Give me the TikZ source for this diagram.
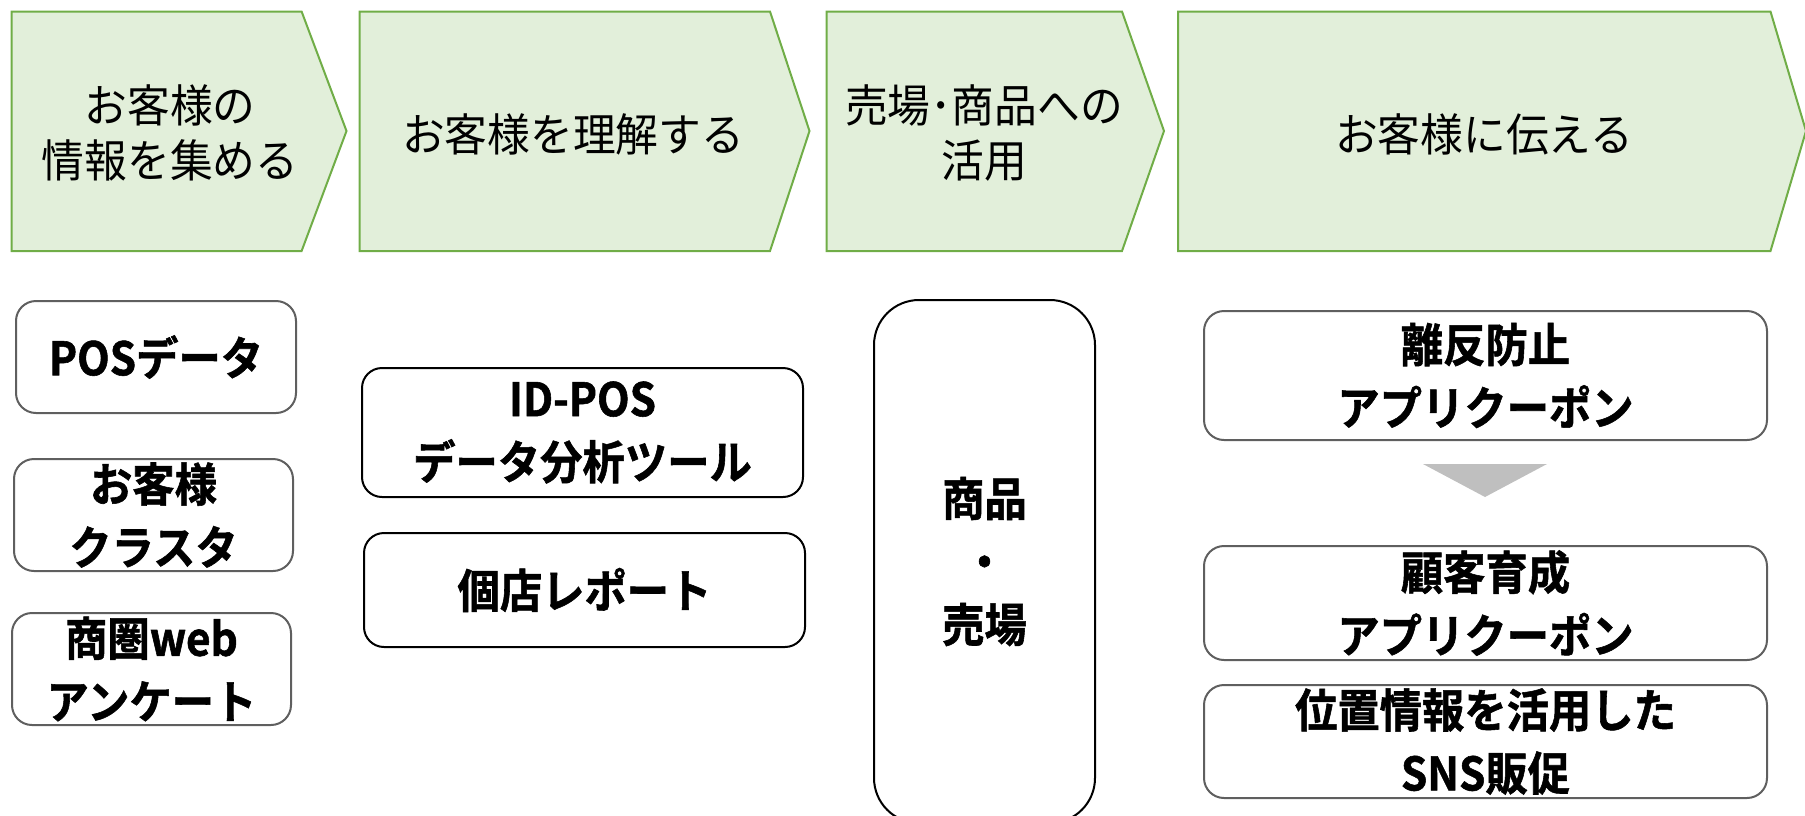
\documentclass[tikz,border=0pt]{standalone}
\usepackage{fontspec}
\newfontfamily\jp[FakeStretch=0.95]{Noto Sans CJK JP}
\newfontfamily\jpb[FakeStretch=0.92,FakeBold=1.2]{Noto Sans CJK JP Bold}
\definecolor{chevfill}{HTML}{E2EFDA}
\definecolor{chevline}{HTML}{70AD47}
\definecolor{boxgray}{HTML}{5F5F5F}
\definecolor{trigray}{HTML}{BFBFBF}
\tikzset{
  chev/.style={draw=chevline, fill=chevfill, line width=2pt, line join=miter},
  ctext/.style={font=\jp\fontsize{45}{55}\selectfont, align=center, inner sep=0pt},
  box/.style={rounded corners=20pt, line width=2pt, fill=white, inner sep=0pt,
    align=center, font=\jpb\fontsize{46}{63}\selectfont},
  graybox/.style={box, draw=boxgray},
  blackbox/.style={box, draw=black}
}
\begin{document}
\begin{tikzpicture}[x=1pt,y=-1pt]
\useasboundingbox (0,0) rectangle (1805,815);
% chevrons
\path[chev] (11.5,11.5) -- (301.6,11.5) -- (346.5,131) -- (301.6,251) -- (11.5,251) -- cycle;
\path[chev] (359.5,11.5) -- (770,11.5) -- (809.5,131) -- (770,251) -- (359.5,251) -- cycle;
\path[chev] (826.5,11.5) -- (1122,11.5) -- (1164,131) -- (1122,251) -- (826.5,251) -- cycle;
\path[chev] (1178,11.5) -- (1770.5,11.5) -- (1806,131) -- (1770.5,251) -- (1178,251) -- cycle;
\node[ctext] (c1) at (170,133) {お客様の\\情報を集める};
\node[ctext] (c2) at (573,134) {お客様を理解する};
\node[ctext] (c3) at (984,133) {売場･商品への\\活用};
\node[ctext] (c4) at (1484,134) {お客様に伝える};
% left column
\node[graybox, minimum width=280pt, minimum height=112pt] (pos) at (156,357) {POSデータ};
\node[graybox, minimum width=279pt, minimum height=112pt] (cluster) at (153.5,515) {お客様\\クラスタ};
\node[graybox, minimum width=279pt, minimum height=112pt] (web) at (151.5,669) {商圏web\\アンケート};
% middle column
\node[blackbox, minimum width=441pt, minimum height=129pt] (idpos) at (582.5,432.5) {ID-POS\\データ分析ツール};
\node[blackbox, minimum width=441pt, minimum height=114pt] (report) at (584.5,590) {個店レポート};
% product / store
\node[blackbox, rounded corners=45pt, minimum width=221pt, minimum height=523pt] (shop) at (984.5,561.5) {商品\\・\\売場};
% right column
\node[graybox, minimum width=563pt, minimum height=129pt] (churn) at (1485.5,375.5) {離反防止\\アプリクーポン};
\node[graybox, minimum width=563pt, minimum height=114pt] (grow) at (1485.5,603) {顧客育成\\アプリクーポン};
\node[graybox, minimum width=563pt, minimum height=113pt] (sns) at (1485.5,741.5) {位置情報を活用した\\SNS販促};
\path[fill=trigray] (1423,464) -- (1547,464) -- (1485,497) -- cycle;
\end{tikzpicture}
\end{document}
